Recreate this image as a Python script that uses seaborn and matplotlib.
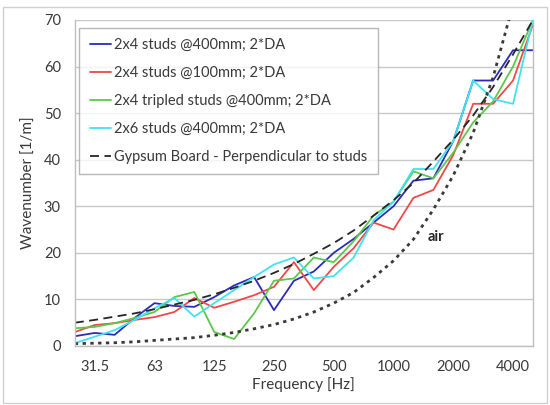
import numpy as np
import pandas as pd
import matplotlib
matplotlib.use('Agg')
import matplotlib.pyplot as plt
import seaborn as sns

# 1/3-octave band centre frequencies (categorical axis)
freqs = ['25', '31.5', '40', '50', '63', '80', '100', '125', '160', '200', '250', '315',
         '400', '500', '630', '800', '1000', '1250', '1600', '2000', '2500', '3150', '4000', '5000']
shown_labels = ['31.5', '63', '125', '250', '500', '1000', '2000', '4000']

studs_400 = [2.1, 2.8, 2.4, 6.0, 9.2, 8.6, 8.4, 10.5, 13.0, 14.8, 7.7, 14.0,
             16.0, 20.0, 23.0, 26.5, 30.0, 35.5, 36.0, 44.0, 57.0, 57.0, 63.5, 63.5]
studs_100 = [3.0, 4.5, 4.9, 5.6, 6.2, 7.3, 10.3, 8.2, 9.5, 10.9, 12.7, 18.0,
             12.0, 17.0, 21.0, 26.5, 25.0, 31.8, 33.5, 41.0, 52.0, 52.0, 57.0, 69.0]
tripled_400 = [3.8, 4.1, 4.9, 6.0, 7.3, 10.5, 11.6, 3.0, 1.5, 7.0, 14.0, 14.5,
               19.0, 18.0, 22.5, 28.0, 31.0, 37.5, 36.0, 41.5, 48.0, 52.5, 60.0, 70.0]
studs2x6_400 = [0.6, 2.0, 3.4, 5.6, 8.1, 10.3, 6.3, 9.2, 12.0, 14.8, 17.5, 19.0,
                14.5, 15.0, 19.0, 27.0, 31.0, 38.0, 38.0, 44.0, 57.0, 53.0, 52.0, 70.0]
gypsum = [5.0, 5.6, 6.3, 7.0, 7.9, 8.9, 9.9, 11.1, 12.5, 14.0, 15.7, 17.6,
          19.8, 22.1, 24.8, 28.0, 31.3, 35.0, 39.6, 44.3, 49.5, 55.6, 62.6, 70.0]
air = [0.5, 0.6, 0.7, 0.9, 1.2, 1.5, 1.8, 2.3, 2.9, 3.7, 4.6, 5.8,
       7.3, 9.2, 11.5, 14.7, 18.3, 22.9, 29.3, 36.6, 45.8, 57.7, 73.3, 91.6]

series = {
    '2x4 studs @400mm; 2*DA': (studs_400, '#2b2bbd', '-'),
    '2x4 studs @100mm; 2*DA': (studs_100, '#f04848', '-'),
    '2x4 tripled studs @400mm; 2*DA': (tripled_400, '#5cc84a', '-'),
    '2x6 studs @400mm; 2*DA': (studs2x6_400, '#3fe3ee', '-'),
    'Gypsum Board - Perpendicular to studs': (gypsum, '#262626', (0, (5, 3))),
}

sns.set_style('white')
plt.rcParams['font.family'] = ['Lato', 'DejaVu Sans']
text_col = '#3a3a3a'

fig = plt.figure(figsize=(5.5, 4.05), dpi=100)
ax = fig.add_axes([0.136, 0.1457, 0.833, 0.805])

for name, (vals, col, ls) in series.items():
    df = pd.DataFrame({'Frequency': freqs, 'k': vals})
    sns.lineplot(data=df, x='Frequency', y='k', ax=ax, color=col, linestyle=ls,
                 linewidth=1.3, label=name, sort=False)

df_air = pd.DataFrame({'Frequency': freqs, 'k': air})
sns.lineplot(data=df_air, x='Frequency', y='k', ax=ax, color='#3a3a3a',
             linestyle=(0, (1.2, 1.6)), linewidth=2.0, sort=False, legend=False)
ax.text(17.7, 23.5, 'air', fontsize=10.5, fontweight='bold', color='#262626',
        va='center')

ax.set_xlim(0, len(freqs) - 1)
ax.set_ylim(0, 70)
ax.set_yticks(range(0, 71, 10))
ax.set_xticks(range(len(freqs)))
ax.set_xticklabels([f if f in shown_labels else '' for f in freqs])
ax.tick_params(axis='both', labelsize=10.5, labelcolor=text_col, length=4, width=0.8,
               direction='out', pad=6, color='#bfbfbf')
ax.grid(axis='y', color='#c8c8c8', linewidth=1.0)
ax.grid(axis='x', visible=False)
for s in ax.spines.values():
    s.set_color('#bfbfbf')
    s.set_linewidth(1.0)
ax.spines['top'].set_visible(False)

ax.set_xlabel('Frequency [Hz]', fontsize=11, color=text_col, labelpad=2)
ax.set_ylabel('Wavenumber [1/m]', fontsize=11, color=text_col, labelpad=6)

leg = ax.legend(loc='upper left', bbox_to_anchor=(0.01, 0.975), fontsize=10.5,
                frameon=True, fancybox=False, handlelength=1.5, handletextpad=0.2,
                labelspacing=0.95, borderpad=0.7, borderaxespad=0)
leg.get_frame().set_edgecolor('#a6a6a6')
leg.get_frame().set_linewidth(1.0)
for t in leg.get_texts():
    t.set_color(text_col)

# chart-area border
fig.patches.append(plt.Rectangle((0.006, 0.005), 0.988, 0.978, transform=fig.transFigure,
                                 fill=False, edgecolor='#d0d0d0', linewidth=1.0))

fig.savefig('out.png', dpi=100)
